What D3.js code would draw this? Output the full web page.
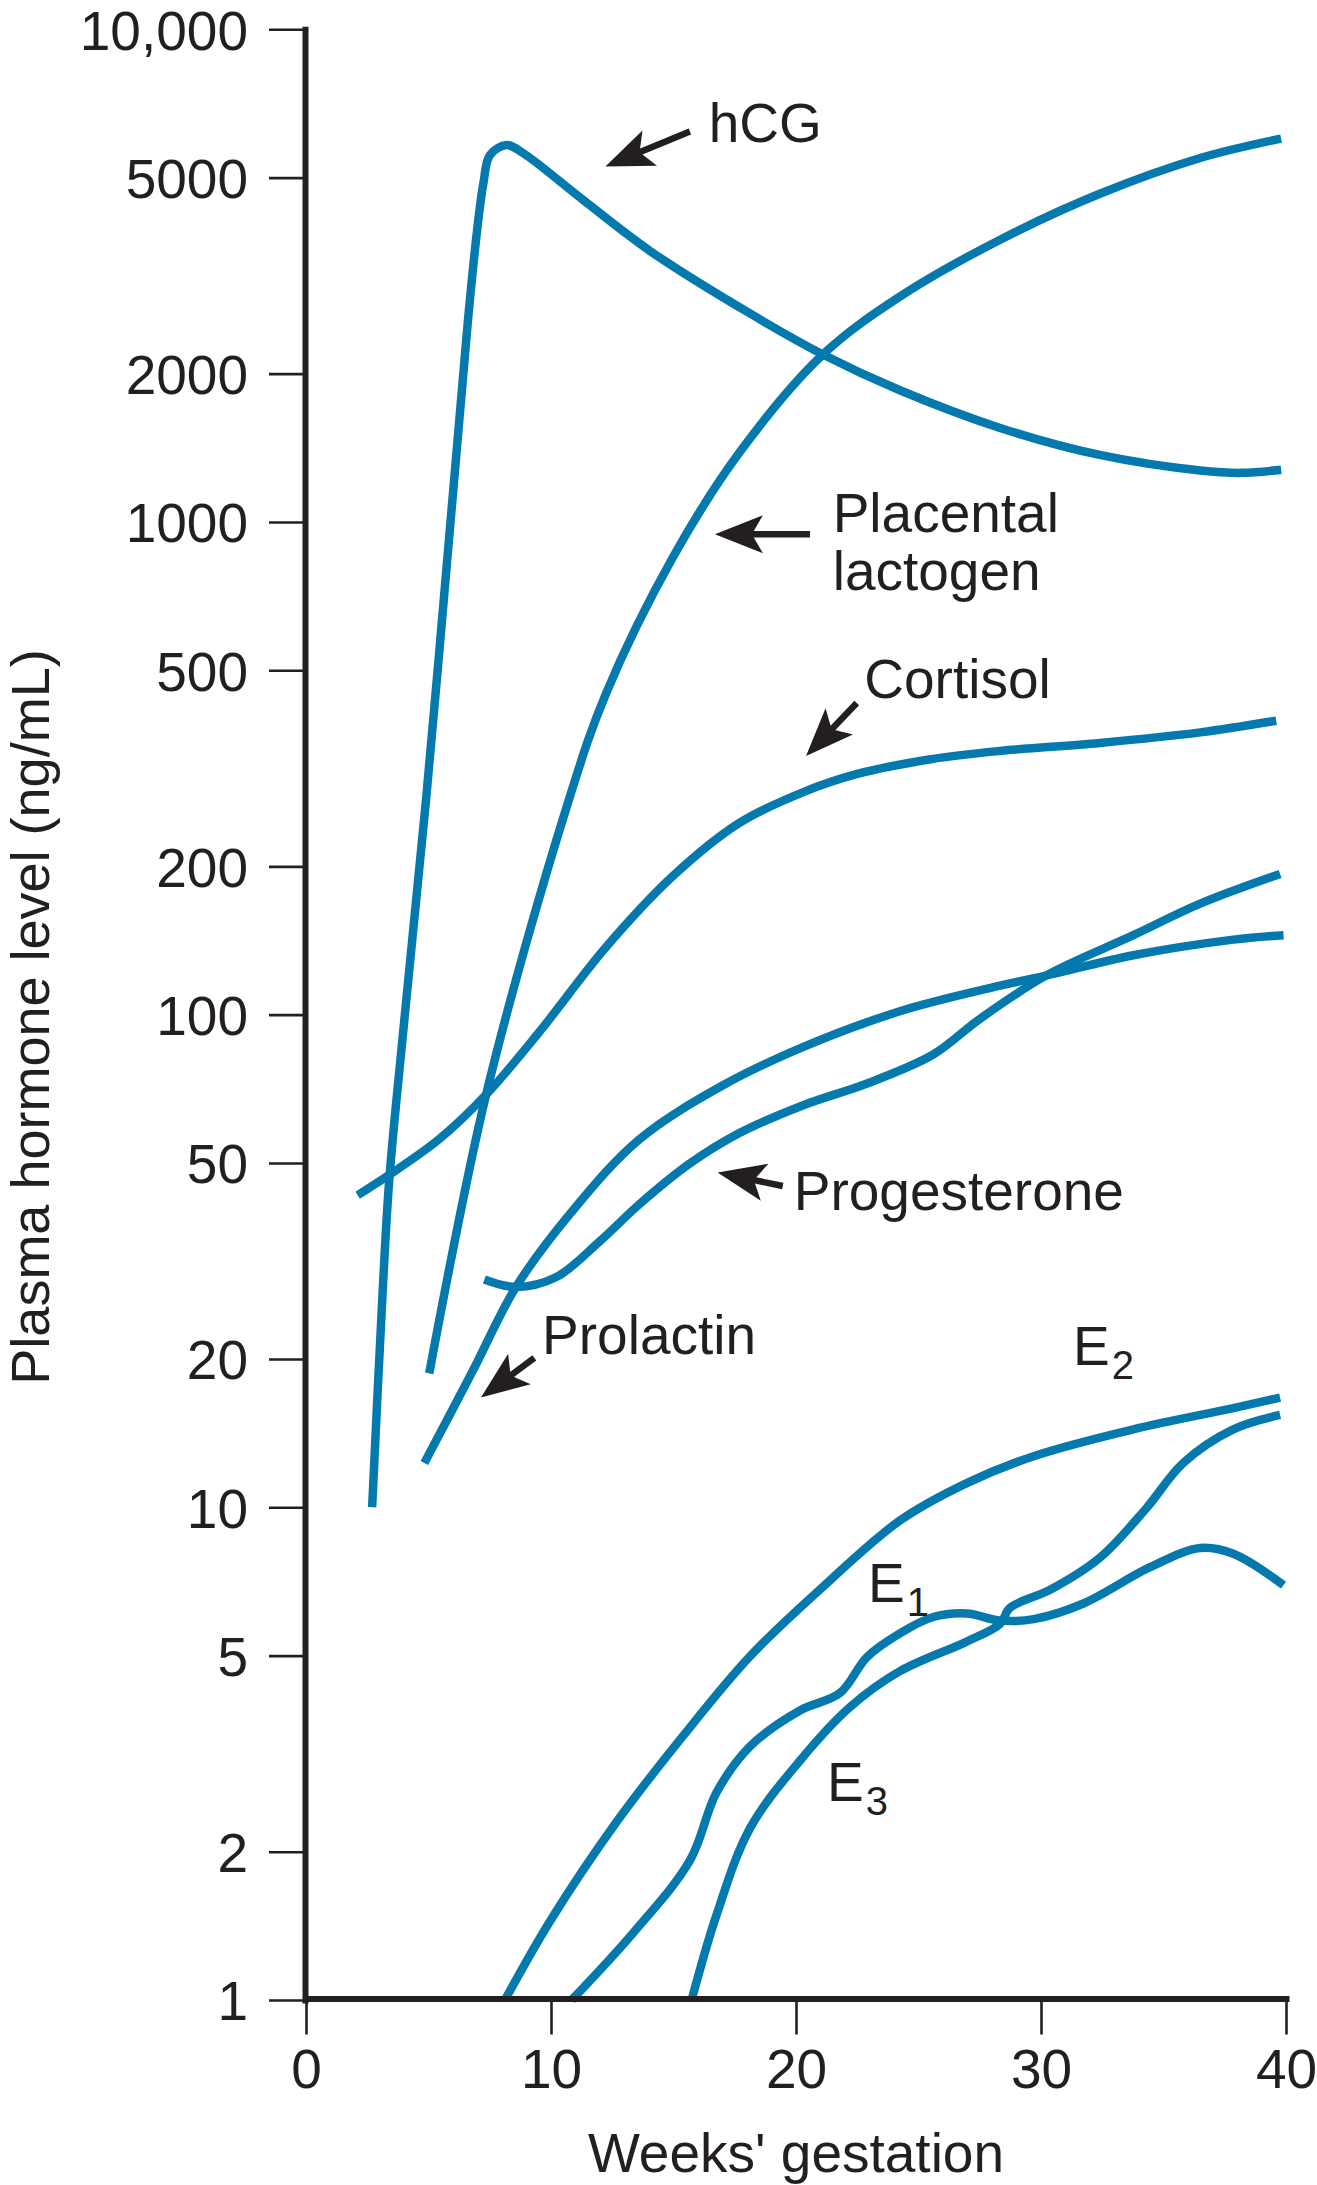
<!DOCTYPE html>
<html><head><meta charset="utf-8">
<script src="https://cdn.jsdelivr.net/npm/d3@7"></script>
<style>
html,body{margin:0;padding:0;background:#fff;}
text{font-family:"Liberation Sans",Arial,Helvetica,sans-serif;fill:#231f20;}
</style>
</head><body>
<svg id="chart" width="1317" height="2185" xmlns="http://www.w3.org/2000/svg"></svg>
<script>
// ---------------- DATA ----------------
const weekTicks = [0, 10, 20, 30, 40];
const levelTicks = [1, 2, 5, 10, 20, 50, 100, 200, 500, 1000, 2000, 5000, 10000];
const levelTickLabels = ["1", "2", "5", "10", "20", "50", "100", "200", "500", "1000", "2000", "5000", "10,000"];
const xTitle = "Weeks' gestation";
const yTitle = "Plasma hormone level (ng/mL)";

// [weeks, ng/mL]
const hCG = [[2.7,10],[3.13,27.5],[3.4,46.3],[4.0,96],[4.9,273],[5.97,1100],[6.6,2532],[6.97,3854],[7.24,4868],[7.51,5558],[8.19,5822],[8.87,5603],[11.32,4500],[14.04,3550],[18.12,2650],[21.1,2188],[24.24,1851],[28.33,1552],[32.4,1368],[36.5,1272],[38.2,1258],[39.8,1277]];
const placentalLactogen = [[5.03,18.7],[7.35,68.8],[10.7,270],[12.24,448],[14.97,847],[17.69,1383],[21.1,2188],[24.3,2880],[28.33,3740],[32.4,4636],[36.5,5480],[39.8,6000]];
const cortisol = [[2.11,43],[3.4,47.3],[5.44,55.9],[7.35,68.8],[9.52,92.2],[12.24,137],[14.97,191],[17.69,245],[20.3,283],[22.5,308],[25.5,330],[28.33,343],[32.4,356],[36.5,374],[39.6,395]];
const prolactin = [[4.83,12.3],[6.8,18.9],[8.57,28],[10.88,40],[13.6,55.8],[17,71.8],[20.3,86],[24.24,101.6],[28.33,114.5],[30.2,120],[33.77,132],[37.85,142],[39.9,145]];
const progesterone = [[7.28,29],[8.57,28],[10.2,29.3],[11.97,34.6],[13.6,41.2],[15.65,49.8],[17.69,57.5],[20.3,65.5],[22.9,72.5],[25.6,83],[27.5,98],[30.2,120],[33.77,145],[36.5,168],[39.76,193]];
const estradiolE2 = [[8.12,1],[9.96,1.445],[12.68,2.3],[15.4,3.44],[18.1,4.97],[20.84,6.71],[24.24,9.4],[26.97,11.2],[29.7,12.7],[33.77,14.4],[37.85,15.9],[39.76,16.7]];
const estroneE1 = [[10.84,1],[13.36,1.37],[15.67,1.92],[16.76,2.64],[18.12,3.27],[20.16,3.87],[21.8,4.2],[22.9,4.97],[24.24,5.55],[25.6,5.99],[26.97,6.09],[28.33,5.89],[29.7,5.93],[31.73,6.38],[34.45,7.56],[36.5,8.27],[37.85,8.05],[39.9,6.95]];
const estriolE3 = [[15.74,1],[16.76,1.49],[18.12,2.23],[20.16,3.06],[22.2,3.93],[24.24,4.65],[26.97,5.34],[28.33,5.8],[28.73,6.25],[30.37,6.8],[32.4,7.9],[34.3,9.96],[35.8,12.3],[37.85,14.4],[39.76,15.4]];

const seriesList = [hCG, placentalLactogen, cortisol, prolactin, progesterone, estradiolE2, estroneE1, estriolE3];

// annotation anchors in data units (weeks, ng/mL)
const labels = [
  {text:"hCG", w:16.6, v:5906},
  {text:"Placental", w:21.66, v:956},
  {text:"lactogen", w:21.66, v:727},
  {text:"Cortisol", w:22.95, v:439},
  {text:"Prolactin", w:9.8, v:20.5},
  {text:"Progesterone", w:20.07, v:40.1},
  {text:"E", sub:"2", w:31.47, v:19.45},
  {text:"E", sub:"1", w:23.1, v:6.43},
  {text:"E", sub:"3", w:21.43, v:2.54}
];
const arrows = [
  {from:[15.67,6203], to:[12.22,5267]},
  {from:[20.57,944],  to:[16.69,944]},
  {from:[22.48,429],  to:[20.41,335]},
  {from:[9.32,20.1],  to:[7.14,16.7]},
  {from:[19.46,44.9], to:[16.8,47.8]}
];

// ---------------- CHART ----------------
const ink = "#231f20";
const lineColor = "#0479ae";
const svg = d3.select("#chart");
svg.append("rect").attr("width",1317).attr("height",2185).attr("fill","#fff");

const x = d3.scaleLinear().domain([0,40]).range([306,1286]);
const y = d3.scaleLog().domain([1,10000]).range([2000,29.3]);

// curves
const line = d3.line().x(d=>x(d[0])).y(d=>y(d[1])).curve(d3.curveCatmullRom.alpha(0.5));
svg.append("g").selectAll("path").data(seriesList).join("path")
  .attr("d", line).attr("fill","none").attr("stroke",lineColor)
  .attr("stroke-width",8.5).attr("stroke-linecap","butt").attr("stroke-linejoin","round");

// y axis
const yAxis = d3.axisLeft(y).tickValues(levelTicks)
  .tickFormat((d,i)=>levelTickLabels[i]).tickSize(36).tickPadding(21).tickSizeOuter(0);
const gy = svg.append("g").attr("transform","translate(305,0)").call(yAxis);
gy.attr("font-size",null).attr("font-family",null);
gy.select(".domain").attr("stroke",ink).attr("stroke-width",6).attr("stroke-linecap","square");
gy.selectAll(".tick line").attr("stroke",ink).attr("stroke-width",2.6);
gy.selectAll(".tick text").attr("font-size",55).attr("dy","0.36em").attr("fill",ink);

// x axis
const xAxis = d3.axisBottom(x).tickValues(weekTicks).tickFormat(d3.format("d"))
  .tickSize(36).tickPadding(14).tickSizeOuter(0);
const gx = svg.append("g").attr("transform","translate(0,1998.5)").call(xAxis);
gx.attr("font-size",null).attr("font-family",null);
gx.select(".domain").attr("stroke",ink).attr("stroke-width",6).attr("stroke-linecap","square");
gx.selectAll(".tick line").attr("stroke",ink).attr("stroke-width",2.6);
gx.selectAll(".tick text").attr("font-size",55).attr("fill",ink);

// titles
svg.append("text").attr("x", x(20)).attr("y", 2172).attr("text-anchor","middle")
  .attr("font-size",55).text(xTitle);
svg.append("text").attr("transform","translate(49,1017) rotate(-90)").attr("text-anchor","middle")
  .attr("font-size",54).text(yTitle);

// labels
const lt = svg.append("g").selectAll("text").data(labels).join("text")
  .attr("x", d=>x(d.w)-4).attr("y", d=>y(d.v)).attr("font-size",55);
lt.append("tspan").text(d=>d.text);
lt.filter(d=>d.sub).append("tspan").attr("dy",14).attr("dx",2).attr("font-size",40).text(d=>d.sub);

// arrows
const headLen = 48, headHalf = 19, notch = 11;
const ag = svg.append("g");
arrows.forEach(a=>{
  const x1 = x(a.from[0]), y1 = y(a.from[1]), x2 = x(a.to[0]), y2 = y(a.to[1]);
  const len = Math.hypot(x2-x1, y2-y1), ux = (x2-x1)/len, uy = (y2-y1)/len;
  const px = -uy, py = ux;
  const bx = x2 - ux*headLen, by = y2 - uy*headLen;
  const nx = x2 - ux*(headLen-notch), ny = y2 - uy*(headLen-notch);
  ag.append("line").attr("x1",x1).attr("y1",y1).attr("x2",nx+ux*2).attr("y2",ny+uy*2)
    .attr("stroke",ink).attr("stroke-width",6.5);
  ag.append("path").attr("fill",ink)
    .attr("d",`M${x2},${y2}L${bx+px*headHalf},${by+py*headHalf}L${nx},${ny}L${bx-px*headHalf},${by-py*headHalf}Z`);
});
</script>
</body></html>
